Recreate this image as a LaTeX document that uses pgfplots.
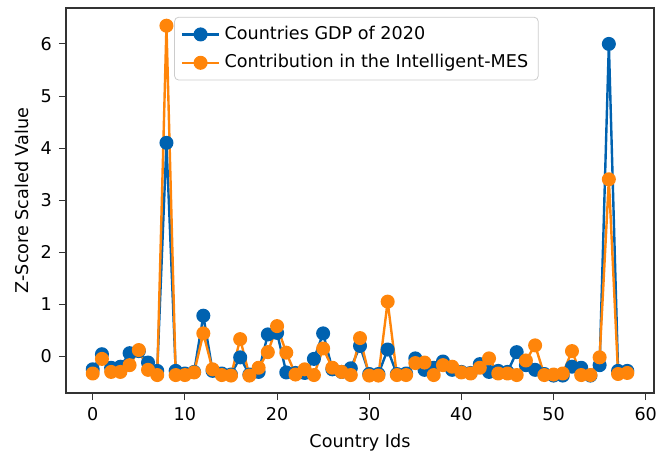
\documentclass[border=0pt]{standalone}
\usepackage{pgfplots}
\pgfplotsset{compat=1.18}
\usepackage{fontspec}
\setmainfont{DejaVu Sans}
\definecolor{cblue}{RGB}{0,98,176}
\definecolor{corange}{RGB}{255,133,10}
\begin{document}
\begin{tikzpicture}
\begin{axis}[name=ax,
  scale only axis, width=294pt, height=192.5pt,
  xmin=-2.9, xmax=60.9, ymin=-0.705, ymax=6.69,
  xtick={0,10,20,30,40,50,60}, ytick={0,1,2,3,4,5,6},
  tick align=outside, major tick length=3.5pt,
  tick style={black!80, line width=0.45pt},
  axis line style={black!80, line width=0.6pt},
  xtick pos=bottom, ytick pos=left,
  font=\fontsize{8.8}{10.5}\selectfont,
  /pgf/number format/assume math mode=true,
  xlabel={Country Ids}, ylabel={Z-Score Scaled Value},
  ylabel style={yshift=-1pt},
  legend style={at={(rel axis cs:0.184,0.977)}, anchor=north west,
    draw=black!20, rounded corners=2pt, font=\fontsize{8.8}{13}\selectfont,
    inner xsep=3pt, inner ysep=2.5pt, row sep=2pt},
  legend cell align=left,
  legend image code/.code={\draw[mark repeat=2,mark phase=2] plot coordinates {(0cm,0cm)(0.33cm,0cm)(0.66cm,0cm)};},
]
\addplot[cblue, line width=1.2pt, line join=round, mark=*, mark size=2.9pt, mark options={solid, fill=cblue, draw=cblue}] coordinates {
(0,-0.25)(1,0.04)(2,-0.22)(3,-0.2)(4,0.06)(5,0.1)(6,-0.12)(7,-0.28)(8,4.1)(9,-0.28)
(10,-0.33)(11,-0.3)(12,0.78)(13,-0.28)(14,-0.33)(15,-0.35)(16,-0.02)(17,-0.35)(18,-0.3)(19,0.42)
(20,0.45)(21,-0.31)(22,-0.32)(23,-0.32)(24,-0.05)(25,0.44)(26,-0.25)(27,-0.3)(28,-0.23)(29,0.2)
(30,-0.34)(31,-0.34)(32,0.13)(33,-0.34)(34,-0.33)(35,-0.04)(36,-0.26)(37,-0.22)(38,-0.1)(39,-0.26)
(40,-0.3)(41,-0.32)(42,-0.15)(43,-0.3)(44,-0.28)(45,-0.3)(46,0.08)(47,-0.17)(48,-0.26)(49,-0.34)
(50,-0.37)(51,-0.37)(52,-0.2)(53,-0.22)(54,-0.37)(55,-0.17)(56,6.0)(57,-0.28)(58,-0.28)
};
\addlegendentry{Countries GDP of 2020}
\addplot[corange, line width=1.2pt, line join=round, mark=*, mark size=2.9pt, mark options={solid, fill=corange, draw=corange}] coordinates {
(0,-0.33)(1,-0.05)(2,-0.3)(3,-0.3)(4,-0.17)(5,0.12)(6,-0.26)(7,-0.36)(8,6.35)(9,-0.36)
(10,-0.36)(11,-0.31)(12,0.44)(13,-0.25)(14,-0.36)(15,-0.37)(16,0.33)(17,-0.37)(18,-0.22)(19,0.08)
(20,0.58)(21,0.07)(22,-0.35)(23,-0.25)(24,-0.36)(25,0.15)(26,-0.22)(27,-0.3)(28,-0.36)(29,0.35)
(30,-0.37)(31,-0.37)(32,1.05)(33,-0.36)(34,-0.36)(35,-0.13)(36,-0.12)(37,-0.36)(38,-0.17)(39,-0.2)
(40,-0.31)(41,-0.33)(42,-0.22)(43,-0.04)(44,-0.33)(45,-0.33)(46,-0.36)(47,-0.08)(48,0.21)(49,-0.36)
(50,-0.35)(51,-0.33)(52,0.1)(53,-0.36)(54,-0.36)(55,-0.02)(56,3.4)(57,-0.34)(58,-0.32)
};
\addlegendentry{Contribution in the Intelligent-MES}
\end{axis}
\path[use as bounding box] ([xshift=-33pt,yshift=-27.5pt]ax.south west) rectangle ([xshift=9pt,yshift=4pt]ax.north east);
\end{tikzpicture}
\end{document}
